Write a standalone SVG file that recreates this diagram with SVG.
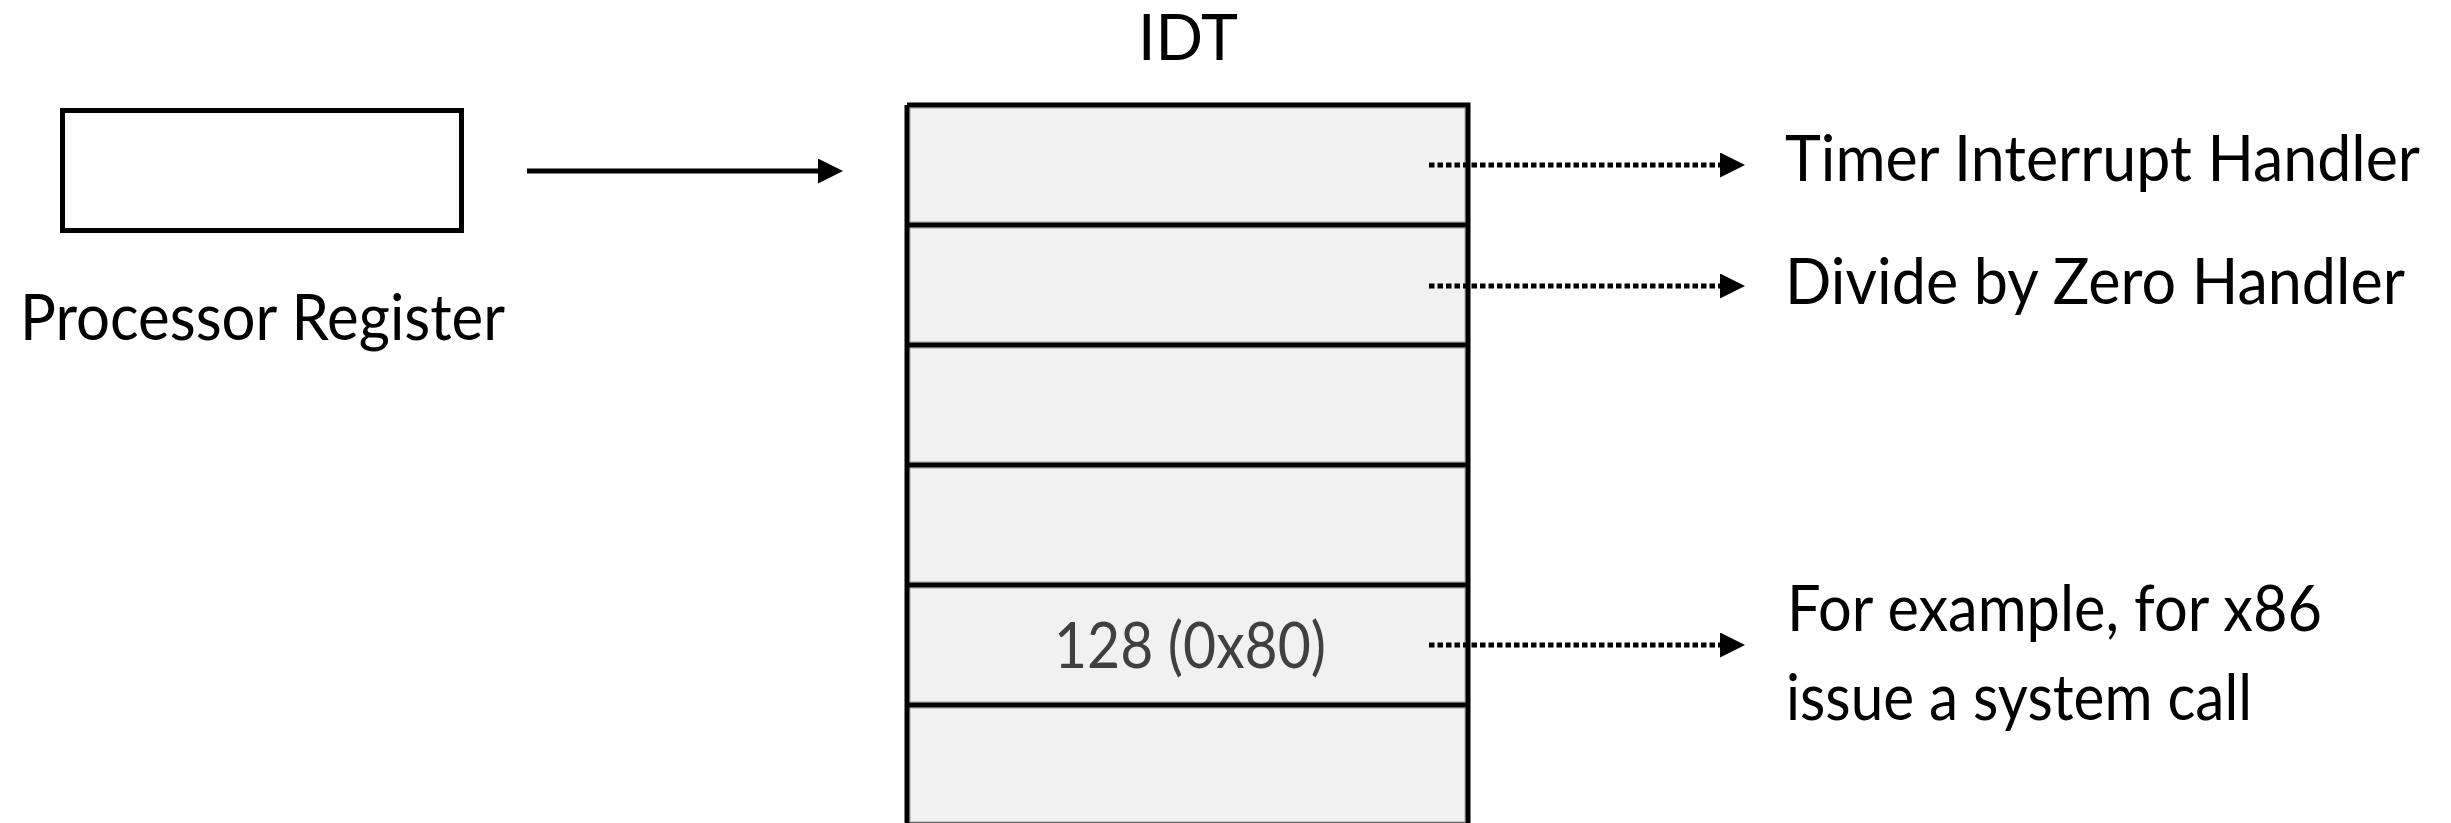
<svg xmlns="http://www.w3.org/2000/svg" width="2451" height="823" viewBox="0 0 2451 823">
<style>
  .t { font-family: Lato, "Liberation Sans", sans-serif; font-size: 64px; fill: #000; }
  .cell { fill: #f1f1f1; stroke: #a0a0a0; stroke-width: 1; }
  .line { stroke: #000; stroke-width: 5; fill: none; }
  .dot { stroke: #000; stroke-width: 5; stroke-dasharray: 5.5 3; fill: none; }
</style>
<defs>
  <marker id="ah" markerUnits="userSpaceOnUse" markerWidth="26" markerHeight="26" refX="0" refY="12.5" orient="auto">
    <path d="M0,0 L25,12.5 L0,25 Z" fill="#000"/>
  </marker>
</defs>
<rect width="2451" height="823" fill="#fff"/>

<g id="register">
  <rect x="62.5" y="110.5" width="399" height="120" fill="#fff" stroke="#000" stroke-width="5"/>
  <text class="t" x="20" y="340" textLength="485" lengthAdjust="spacingAndGlyphs">Processor Register</text>
</g>

<g id="idt">
  <text class="t" x="1138" y="60" textLength="100" lengthAdjust="spacingAndGlyphs">IDT</text>
  <rect class="cell" x="910" y="108" width="555" height="114"/>
  <rect class="cell" x="910" y="228" width="555" height="114"/>
  <rect class="cell" x="910" y="348" width="555" height="114"/>
  <rect class="cell" x="910" y="468" width="555" height="114"/>
  <rect class="cell" x="910" y="588" width="555" height="114"/>
  <rect class="cell" x="910" y="708" width="555" height="114"/>
  <path class="line" d="M907,105 H1468 V830 M907,105 V830 M907,225 H1468 M907,345 H1468 M907,465 H1468 M907,585 H1468 M907,705 H1468 M907,825 H1468"/>
  <text class="t" x="1054" y="668" style="fill:#404040" textLength="272" lengthAdjust="spacingAndGlyphs">128 (0x80)</text>
</g>

<g id="handlers">
  <text class="t" x="1785" y="181" textLength="635" lengthAdjust="spacingAndGlyphs">Timer Interrupt Handler</text>
  <text class="t" x="1785" y="304" textLength="620" lengthAdjust="spacingAndGlyphs">Divide by Zero Handler</text>
  <text class="t" x="1787" y="631" textLength="535" lengthAdjust="spacingAndGlyphs">For example, for x86</text>
  <text class="t" x="1786" y="720" textLength="466" lengthAdjust="spacingAndGlyphs">issue a system call</text>
</g>

<g id="connectors">
  <line class="line" x1="527" y1="171" x2="818" y2="171" marker-end="url(#ah)"/>
  <line class="dot" x1="1429" y1="165" x2="1720" y2="165" marker-end="url(#ah)"/>
  <line class="dot" x1="1429" y1="286" x2="1720" y2="286" marker-end="url(#ah)"/>
  <line class="dot" x1="1429" y1="645" x2="1720" y2="645" marker-end="url(#ah)"/>
</g>
</svg>
